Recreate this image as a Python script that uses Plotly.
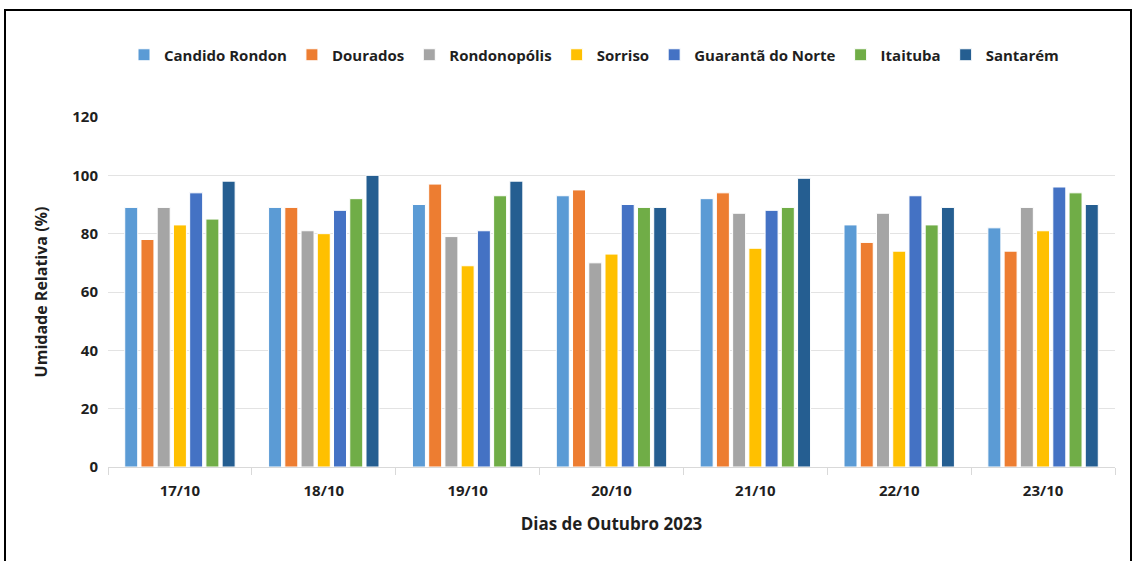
import plotly.graph_objects as go

days = ["17/10", "18/10", "19/10", "20/10", "21/10", "22/10", "23/10"]
candido_rondon = [89, 89, 90, 93, 92, 83, 82]
dourados = [78, 89, 97, 95, 94, 77, 74]
rondonopolis = [89, 81, 79, 70, 87, 87, 89]
sorriso = [83, 80, 69, 73, 75, 74, 81]
guaranta = [94, 88, 81, 90, 88, 93, 96]
itaituba = [85, 92, 93, 89, 89, 83, 94]
santarem = [98, 100, 98, 89, 99, 89, 90]

series = [
    ("Candido Rondon", candido_rondon, "#5B9BD5"),
    ("Dourados", dourados, "#ED7D31"),
    ("Rondonopólis", rondonopolis, "#A5A5A5"),
    ("Sorriso", sorriso, "#FFC000"),
    ("Guarantã do Norte", guaranta, "#4472C4"),
    ("Itaituba", itaituba, "#70AD47"),
    ("Santarém", santarem, "#255E91"),
]

FONT = "Open Sans"
TXT = "#1f1f1f"
fig = go.Figure()
for name, vals, col in series:
    fig.add_trace(go.Bar(
        x=days, y=vals, name=name,
        marker=dict(color=col, line=dict(color="white", width=1)),
    ))

L, R, T, B = 108, 19, 117, 94
W, H = 1134, 561
pw, ph = W - L - R, H - T - B

def px_x(p):
    return (p - L) / pw

def px_y(p):
    return (H - B - p) / ph

fig.update_layout(
    width=W, height=H,
    margin=dict(l=L, r=R, t=T, b=B),
    paper_bgcolor="white", plot_bgcolor="white",
    barmode="group", bargap=0.21, bargroupgap=0.2,
    font=dict(family=FONT, size=14, color=TXT),
    showlegend=True,
    legend=dict(
        orientation="h", x=px_x(594), xanchor="center", y=px_y(55), yanchor="middle",
        font=dict(family=FONT, size=15, color=TXT, weight="bold"),
        itemwidth=30, traceorder="normal",
    ),
    xaxis=dict(
        type="category", tickson="boundaries", ticks="outside", ticklen=7,
        tickcolor="#d9d9d9", showline=True, linecolor="#d9d9d9", linewidth=1,
        ticklabelstandoff=10,
        tickfont=dict(family=FONT, size=15, color=TXT, weight="bold"),
        title=dict(text="Dias de Outubro 2023",
                   font=dict(family=FONT, size=17, color=TXT, weight="bold"),
                   standoff=19),
        showgrid=False,
    ),
    yaxis=dict(
        range=[0, 120], dtick=20, showgrid=True, gridcolor="#e3e3e3", gridwidth=1,
        zeroline=False, showline=False, ticks="", ticklabelstandoff=9,
        tickfont=dict(family=FONT, size=15, color=TXT, weight="bold"),
        title=dict(text="Umidade Relativa (%)",
                   font=dict(family=FONT, size=16, color=TXT, weight="bold"),
                   standoff=20),
    ),
    shapes=[dict(
        type="rect", xref="paper", yref="paper",
        x0=px_x(5), x1=px_x(1131), y0=px_y(575), y1=px_y(10),
        line=dict(color="black", width=2), fillcolor="rgba(0,0,0,0)", layer="below",
    )],
)

fig.write_html("out.html", config={"displayModeBar": False},
               post_script="document.body.style.margin='0';")
